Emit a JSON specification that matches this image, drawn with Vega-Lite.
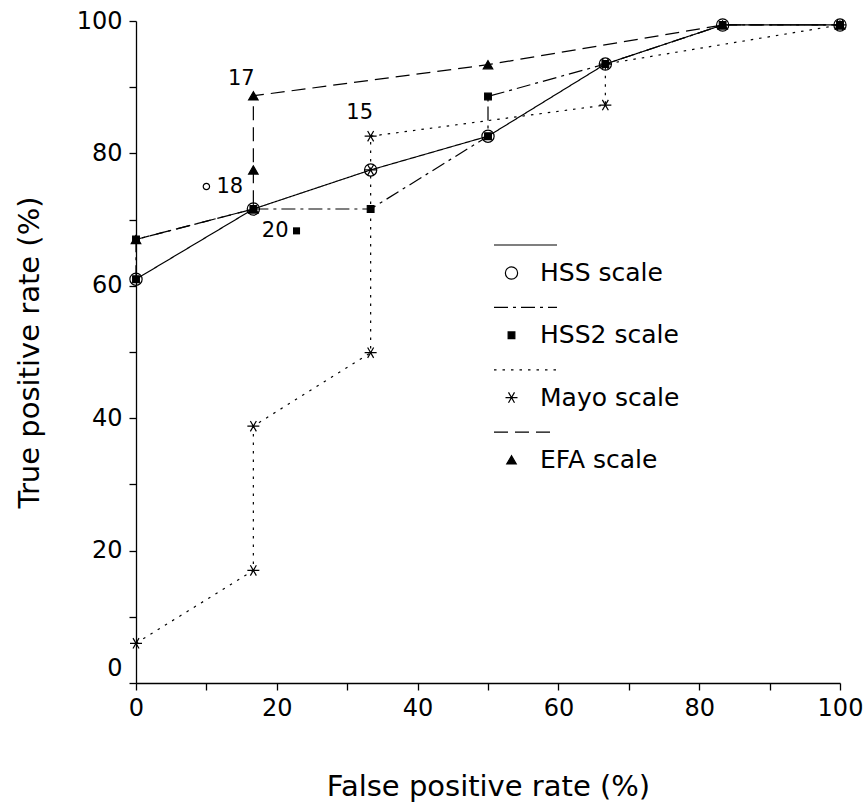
{
  "$schema": "https://vega.github.io/schema/vega-lite/v6.json",
  "width": 704,
  "height": 662,
  "autosize": {"type": "none"},
  "padding": {"left": 136, "top": 21, "right": 23, "bottom": 120},
  "background": "white",
  "config": {"view": {"stroke": null}, "font": "DejaVu Sans"},
  "datasets": {
    "roc": [
      {"scale": "HSS scale", "order": 1, "fpr": 0, "tpr": 61},
      {"scale": "HSS scale", "order": 2, "fpr": 16.67, "tpr": 71.6},
      {"scale": "HSS scale", "order": 3, "fpr": 33.33, "tpr": 77.5},
      {"scale": "HSS scale", "order": 4, "fpr": 50, "tpr": 82.6},
      {"scale": "HSS scale", "order": 5, "fpr": 66.67, "tpr": 93.5},
      {"scale": "HSS scale", "order": 6, "fpr": 83.33, "tpr": 99.4},
      {"scale": "HSS scale", "order": 7, "fpr": 100, "tpr": 99.4},
      {"scale": "HSS2 scale", "order": 1, "fpr": 0, "tpr": 61},
      {"scale": "HSS2 scale", "order": 2, "fpr": 0, "tpr": 67},
      {"scale": "HSS2 scale", "order": 3, "fpr": 16.67, "tpr": 71.6},
      {"scale": "HSS2 scale", "order": 4, "fpr": 33.33, "tpr": 71.6},
      {"scale": "HSS2 scale", "order": 5, "fpr": 50, "tpr": 82.6},
      {"scale": "HSS2 scale", "order": 6, "fpr": 50, "tpr": 88.6},
      {"scale": "HSS2 scale", "order": 7, "fpr": 66.67, "tpr": 93.5},
      {"scale": "HSS2 scale", "order": 8, "fpr": 83.33, "tpr": 99.4},
      {"scale": "HSS2 scale", "order": 9, "fpr": 100, "tpr": 99.4},
      {"scale": "Mayo scale", "order": 1, "fpr": 0, "tpr": 6},
      {"scale": "Mayo scale", "order": 2, "fpr": 16.67, "tpr": 17},
      {"scale": "Mayo scale", "order": 3, "fpr": 16.67, "tpr": 38.8},
      {"scale": "Mayo scale", "order": 4, "fpr": 33.33, "tpr": 49.9},
      {"scale": "Mayo scale", "order": 5, "fpr": 33.33, "tpr": 77.5},
      {"scale": "Mayo scale", "order": 6, "fpr": 33.33, "tpr": 82.6},
      {"scale": "Mayo scale", "order": 7, "fpr": 66.67, "tpr": 87.3},
      {"scale": "Mayo scale", "order": 8, "fpr": 66.67, "tpr": 93.5},
      {"scale": "Mayo scale", "order": 9, "fpr": 100, "tpr": 99.4},
      {"scale": "EFA scale", "order": 1, "fpr": 0, "tpr": 67},
      {"scale": "EFA scale", "order": 2, "fpr": 16.67, "tpr": 71.6},
      {"scale": "EFA scale", "order": 3, "fpr": 16.67, "tpr": 77.5},
      {"scale": "EFA scale", "order": 4, "fpr": 16.67, "tpr": 88.7},
      {"scale": "EFA scale", "order": 5, "fpr": 50, "tpr": 93.4},
      {"scale": "EFA scale", "order": 6, "fpr": 83.33, "tpr": 99.4},
      {"scale": "EFA scale", "order": 7, "fpr": 100, "tpr": 99.4}
    ],
    "notes": [
      {"scale": "EFA scale", "cutoff": "17", "fpr": 16.67, "tpr": 88.7},
      {"scale": "Mayo scale", "cutoff": "15", "fpr": 33.33, "tpr": 82.6},
      {"scale": "HSS scale", "cutoff": "18", "fpr": 10, "tpr": 75},
      {"scale": "HSS2 scale", "cutoff": "20", "fpr": 22.8, "tpr": 68.3}
    ]
  },
  "encoding": {
    "x": {
      "field": "fpr", "type": "quantitative", "title": "False positive rate (%)",
      "scale": {"domain": [0, 100], "nice": false, "zero": false},
      "axis": {
        "values": [0, 10, 20, 30, 40, 50, 60, 70, 80, 90, 100],
        "labelExpr": "datum.value % 20 === 0 ? datum.label : ''",
        "grid": false, "domainColor": "black", "domainWidth": 1.3,
        "tickColor": "black", "tickWidth": 1.3, "tickSize": 7,
        "labelFont": "DejaVu Sans", "labelFontSize": 24, "labelColor": "black",
        "labelPadding": 6, "labelFlush": false, "labelOverlap": false,
        "titleFont": "DejaVu Sans", "titleFontSize": 29, "titleFontWeight": "normal",
        "titleColor": "black", "titlePadding": 52
      }
    },
    "y": {
      "field": "tpr", "type": "quantitative", "title": "True positive rate (%)",
      "scale": {"domain": [0, 100], "nice": false, "zero": false},
      "axis": {
        "values": [0, 10, 20, 30, 40, 50, 60, 70, 80, 90, 100],
        "labelExpr": "datum.value % 20 === 0 ? datum.label : ''",
        "grid": false, "domainColor": "black", "domainWidth": 1.3,
        "tickColor": "black", "tickWidth": 1.3, "tickSize": 7,
        "labelFont": "DejaVu Sans", "labelFontSize": 24, "labelColor": "black",
        "labelPadding": 7, "labelFlush": false, "labelOverlap": false,
        "labelOffset": {"condition": {"test": "datum.value === 0", "value": -15}, "value": 0},
        "titleFont": "DejaVu Sans", "titleFontSize": 29, "titleFontWeight": "normal",
        "titleColor": "black", "titlePadding": 32
      }
    }
  },
  "layer": [
    {
      "data": {"name": "roc"},
      "mark": {"type": "line", "color": "black", "strokeWidth": 1.2},
      "encoding": {
        "strokeDash": {
          "field": "scale", "type": "nominal",
          "sort": ["HSS scale", "HSS2 scale", "Mayo scale", "EFA scale"],
          "scale": {"range": [[1, 0], [14, 5, 3, 5], [2.5, 6], [14, 7]]},
          "legend": {
            "title": null, "orient": "none", "legendX": 357, "legendY": 209,
            "padding": 0, "clipHeight": 30, "rowPadding": 32.4,
            "labelExpr": "''", "symbolType": "stroke", "symbolSize": 3969,
            "symbolStrokeColor": "black", "symbolStrokeWidth": 1.2
          }
        },
        "order": {"field": "order", "type": "quantitative"}
      }
    },
    {
      "data": {"name": "roc"},
      "mark": {"type": "point", "filled": true, "stroke": "black", "strokeWidth": 1.2, "opacity": 1},
      "encoding": {
        "shape": {
          "field": "scale", "type": "nominal",
          "scale": {
            "domain": ["HSS scale", "HSS2 scale", "Mayo scale", "EFA scale"],
            "range": ["circle", "square", "M-1,0L1,0M-0.5,-0.866L0.5,0.866M-0.5,0.866L0.5,-0.866", "triangle-up"]
          },
          "legend": {
            "title": null, "orient": "none", "legendX": 363, "legendY": 237,
            "padding": 0, "clipHeight": 30, "rowPadding": 32.3,
            "labelFont": "DejaVu Sans", "labelFontSize": 25, "labelColor": "black",
            "labelOffset": 16, "symbolStrokeColor": "black", "symbolStrokeWidth": 1.2,
            "symbolOpacity": 1,
            "encode": {"symbols": {"update": {"stroke": {"value": "black"}, "strokeWidth": {"value": 1.2}}}}
          }
        },
        "fill": {
          "field": "scale", "type": "nominal",
          "scale": {
            "domain": ["HSS scale", "HSS2 scale", "Mayo scale", "EFA scale"],
            "range": ["transparent", "black", "transparent", "black"]
          },
          "legend": {
            "title": null, "orient": "none", "legendX": 363, "legendY": 237,
            "padding": 0, "clipHeight": 30, "rowPadding": 32.3,
            "labelFont": "DejaVu Sans", "labelFontSize": 25, "labelColor": "black",
            "labelOffset": 16, "symbolStrokeColor": "black", "symbolStrokeWidth": 1.2,
            "symbolOpacity": 1,
            "encode": {"symbols": {"update": {"stroke": {"value": "black"}, "strokeWidth": {"value": 1.2}}}}
          }
        },
        "size": {
          "field": "scale", "type": "nominal",
          "scale": {
            "type": "ordinal",
            "domain": ["HSS scale", "HSS2 scale", "Mayo scale", "EFA scale"],
            "range": [150, 45, 144, 90]
          },
          "legend": {
            "title": null, "orient": "none", "legendX": 363, "legendY": 237,
            "padding": 0, "clipHeight": 30, "rowPadding": 32.3,
            "labelFont": "DejaVu Sans", "labelFontSize": 25, "labelColor": "black",
            "labelOffset": 16, "symbolStrokeColor": "black", "symbolStrokeWidth": 1.2,
            "symbolOpacity": 1,
            "encode": {"symbols": {"update": {"stroke": {"value": "black"}, "strokeWidth": {"value": 1.2}}}}
          }
        }
      }
    },
    {
      "data": {"name": "notes"},
      "transform": [{"filter": "datum.cutoff === '18'"}],
      "mark": {"type": "point", "shape": "circle", "filled": false, "stroke": "black", "strokeWidth": 1.2, "size": 40, "opacity": 1}
    },
    {
      "data": {"name": "notes"},
      "transform": [{"filter": "datum.cutoff === '20'"}],
      "mark": {"type": "point", "shape": "square", "filled": true, "color": "black", "size": 50, "opacity": 1}
    },
    {
      "data": {"name": "notes"},
      "transform": [{"filter": "datum.cutoff === '17'"}],
      "mark": {"type": "text", "font": "DejaVu Sans", "fontSize": 21, "color": "black", "align": "center", "baseline": "middle", "dx": -12, "dy": -17},
      "encoding": {"text": {"field": "cutoff"}}
    },
    {
      "data": {"name": "notes"},
      "transform": [{"filter": "datum.cutoff === '15'"}],
      "mark": {"type": "text", "font": "DejaVu Sans", "fontSize": 21, "color": "black", "align": "center", "baseline": "middle", "dx": -11, "dy": -23},
      "encoding": {"text": {"field": "cutoff"}}
    },
    {
      "data": {"name": "notes"},
      "transform": [{"filter": "datum.cutoff === '18'"}],
      "mark": {"type": "text", "font": "DejaVu Sans", "fontSize": 21, "color": "black", "align": "left", "baseline": "middle", "dx": 10, "dy": 0},
      "encoding": {"text": {"field": "cutoff"}}
    },
    {
      "data": {"name": "notes"},
      "transform": [{"filter": "datum.cutoff === '20'"}],
      "mark": {"type": "text", "font": "DejaVu Sans", "fontSize": 21, "color": "black", "align": "right", "baseline": "middle", "dx": -8, "dy": 0},
      "encoding": {"text": {"field": "cutoff"}}
    }
  ]
}
